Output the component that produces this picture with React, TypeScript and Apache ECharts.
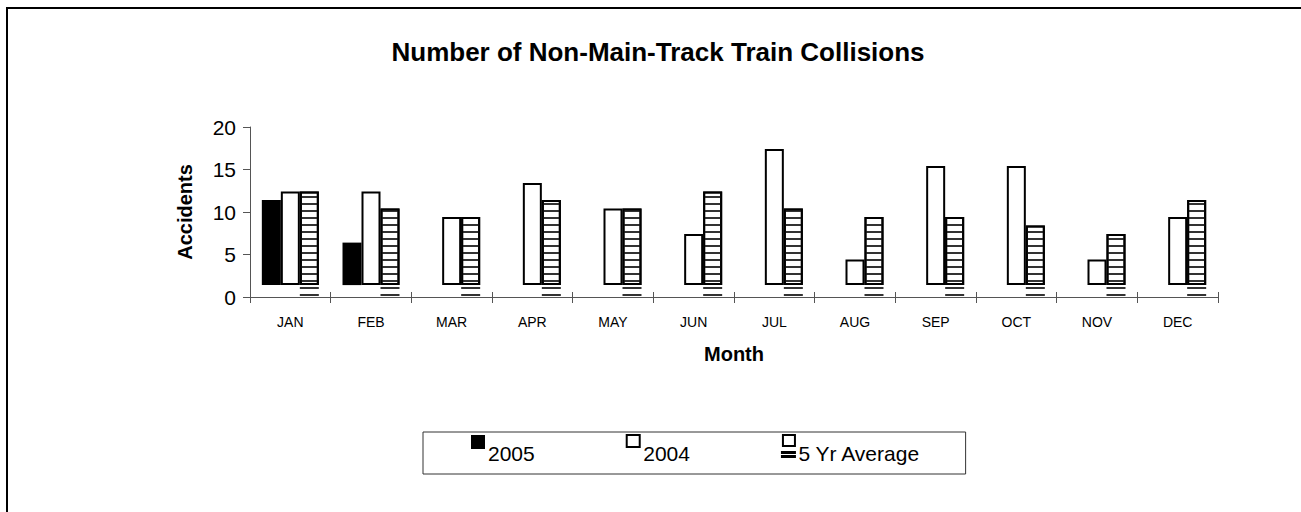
import React, { useEffect, useRef } from "react";
import * as echarts from "echarts";

const months = ["JAN", "FEB", "MAR", "APR", "MAY", "JUN", "JUL", "AUG", "SEP", "OCT", "NOV", "DEC"];
const y2005: (number | null)[] = [10, 5, null, null, null, null, null, null, null, null, null, null];
const y2004: number[] = [11, 11, 8, 12, 9, 6, 16, 3, 14, 14, 3, 8];
const avg5: number[] = [11, 9, 8, 10, 9, 11, 9, 8, 8, 7, 6, 10];
const yTicks = { min: 0, max: 20, interval: 5 };

// visual lift of the bars' bottom edge above the axis (as in the reference rendering)
const LIFT = 1.4;
const FONT = "Liberation Sans, Arial, sans-serif";

export default function App() {
  const ref = useRef<HTMLDivElement>(null);
  useEffect(() => {
    if (!ref.current) return;
    const chart = echarts.init(ref.current, null, { renderer: "svg" });
    const stripe = {
      symbol: "rect",
      symbolSize: 1,
      color: "#333",
      dashArrayX: [1, 0],
      dashArrayY: [2, 4.5],
      rotation: 0,
    };
    const base = (arr: (number | null)[], stack: string, decal?: any) => ({
      name: "_" + stack,
      type: "bar",
      stack,
      barWidth: 19,
      barGap: "0%",
      silent: true,
      data: arr.map((v) => (v == null ? null : LIFT)),
      itemStyle: { color: "rgba(0,0,0,0)", ...(decal ? { decal } : {}) },
    });
    chart.setOption({
      animation: false,
      backgroundColor: "#fff",
      textStyle: { fontFamily: FONT },
      title: {
        text: "Number of Non-Main-Track Train Collisions",
        left: 653,
        textAlign: "center",
        top: 34,
        textStyle: { fontSize: 26, fontWeight: "bold", color: "#000", fontFamily: FONT },
      },
      graphic: [
        {
          type: "rect",
          shape: { x: 7, y: 8, width: 2000, height: 1000 },
          style: { fill: "none", stroke: "#000", lineWidth: 2 },
          silent: true,
          z: 100,
        },
      ],
      legend: {
        data: [
          { name: "2005", icon: "path://M0,0H14V14H0Z M0,24L0,24" },
          { name: "2004", icon: "path://M0,0H13V12H0Z M0,24L0,24" },
          {
            name: "5 Yr Average",
            icon: "path://M1,0H13V11H1Z M0,17H13V18H0Z M0,21H13V22H0Z M0,24L0,24",
            itemStyle: { decal: "none" },
          },
        ],
        left: 423,
        top: 432,
        orient: "horizontal",
        itemWidth: 14,
        itemHeight: 24,
        itemGap: 91,
        padding: [2, 45, 10, 48],
        borderColor: "#333",
        borderWidth: 1,
        formatter: "{t|{name}}",
        textStyle: {
          fontSize: 21,
          color: "#000",
          fontFamily: FONT,
          rich: {
            t: { fontSize: 21, color: "#000", fontFamily: FONT, padding: [13, 0, 0, -2] },
          },
        },
      },
      grid: { left: 250, right: 83, top: 127, bottom: 215 },
      xAxis: [
        {
          type: "category",
          data: months,
          name: "Month",
          nameLocation: "middle",
          nameGap: 47,
          nameTextStyle: { fontSize: 20, fontWeight: "bold", color: "#000" },
          axisLine: { lineStyle: { color: "#555", width: 1 } },
          axisTick: { show: true, length: 6, lineStyle: { color: "#555" } },
          axisLabel: { fontSize: 14, color: "#000", margin: 18 },
        },
        {
          type: "category",
          data: months,
          position: "bottom",
          axisLine: { show: false },
          axisTick: { show: true, inside: true, length: 5, lineStyle: { color: "#555" } },
          axisLabel: { show: false },
        },
      ],
      yAxis: {
        type: "value",
        min: yTicks.min,
        max: yTicks.max,
        interval: yTicks.interval,
        name: "Accidents",
        nameLocation: "middle",
        nameGap: 55,
        nameTextStyle: { fontSize: 20, fontWeight: "bold", color: "#000" },
        axisLine: { show: true, lineStyle: { color: "#555", width: 1 } },
        axisTick: { show: true, length: 7, lineStyle: { color: "#555" } },
        axisLabel: { fontSize: 21, color: "#000", margin: 14 },
        splitLine: { show: false },
      },
      series: [
        base(y2005, "s05"),
        {
          name: "2005",
          type: "bar",
          stack: "s05",
          barWidth: 19,
          barGap: "0%",
          data: y2005,
          itemStyle: { color: "#000", borderColor: "#000", borderWidth: 0 },
        },
        base(y2004, "s04"),
        {
          name: "2004",
          type: "bar",
          stack: "s04",
          barWidth: 19,
          barGap: "0%",
          data: y2004,
          itemStyle: { color: "#fff", borderColor: "#000", borderWidth: 2 },
        },
        base(avg5, "sav", stripe),
        {
          name: "5 Yr Average",
          type: "bar",
          stack: "sav",
          barWidth: 19,
          barGap: "0%",
          data: avg5,
          itemStyle: { color: "#fff", borderColor: "#000", borderWidth: 2, decal: stripe },
        },
      ],
    });
    return () => chart.dispose();
  }, []);
  return (
    <div
      ref={ref}
      style={{ position: "fixed", left: 0, top: 0, width: 1301, height: 512 }}
    />
  );
}
